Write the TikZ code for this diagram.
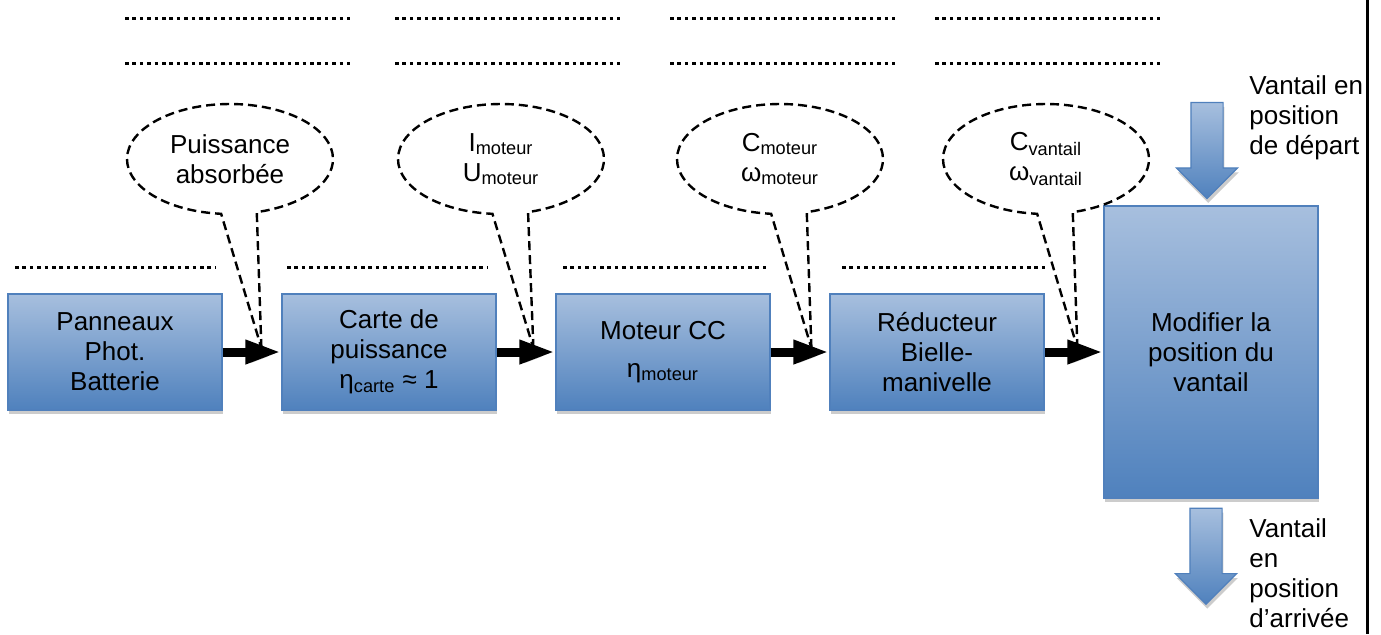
\documentclass[tikz,border=0pt]{standalone}
\usepackage{fontspec}
\setmainfont{Liberation Sans}
\usetikzlibrary{positioning,arrows.meta,shapes.callouts,shapes.arrows,shadows}
\definecolor{blocktop}{RGB}{167,191,222}
\definecolor{blockbottom}{RGB}{79,129,189}
\definecolor{blockline}{RGB}{80,128,188}
\def\blocksep{29.4pt}

\begin{document}
\begin{tikzpicture}[x=0.5pt,y=-0.5pt,node distance=\blocksep,font=\fontsize{13}{15}\selectfont]
		\tikzstyle{block}=[rectangle,draw=blockline,line width=0.6pt,top color=blocktop,bottom color=blockbottom,
			minimum width=107pt,minimum height=58pt,inner sep=0pt,align=center,
			drop shadow={shadow xshift=0.6pt,shadow yshift=-2.2pt,fill=black!20,opacity=1}]
		\tikzstyle{move}=[single arrow,shape border rotate=270,draw=blockline,line width=0.6pt,
			top color=blocktop,bottom color=blockbottom,minimum width=30pt,minimum height=48pt,
			single arrow head extend=7.25pt,inner sep=7.75pt,
			drop shadow={shadow xshift=0.6pt,shadow yshift=-2.2pt,fill=black!20,opacity=1}]
		\tikzstyle{flow}=[line width=4.5pt,-{Triangle[length=18pt,width=11pt]},
			preaction={draw=black!20,transform canvas={xshift=0.6pt,yshift=-2.2pt}}]
		\tikzstyle{bubble}=[ellipse callout,draw,line width=1.2pt,dash pattern=on 4.5pt off 2.5pt,
			minimum width=103pt,minimum height=55pt,callout pointer arc=20,inner sep=0pt,align=center]
		\tikzstyle{blank}=[line width=1.5pt,dash pattern=on 1.8pt off 1.9pt]
		\tikzstyle{note}=[anchor=north west,align=left,inner sep=0pt]
		
		\useasboundingbox (0,0) rectangle (1381,634);
		
		% Draw the blank answer lines
		\foreach \x in {125,395,670,935}{
			\draw[blank] (\x,18) -- ++(225,0);
			\draw[blank] (\x,63) -- ++(225,0);
		}
		\foreach \x/\len in {15/200,287/201,563/204,842/203}
		\draw[blank] (\x,267) -- ++(\len,0);
		
		% Draw the chain blocks
		\node[block] (B-1) at (115,352) {Panneaux\\Phot.\\Batterie};
		\node[block, right=of B-1] (B-2) {Carte de\\puissance\\η\textsubscript{carte} ≈ 1};
		\node[block, right=of B-2] (B-3) {Moteur CC\\[4pt]η\textsubscript{moteur}};
		\node[block, right=of B-3] (B-4) {Réducteur\\Bielle-\\manivelle};
		\node[block, right=of B-4, minimum height=146pt] (B-5) {Modifier la\\position du\\vantail};
		
		% Draw the callouts pointing at the power flow
		\node[bubble, callout absolute pointer={([xshift=-10pt,yshift=2pt]B-2.west)}] (C-1) at (230,159) {Puissance\\absorbée};
		\node[bubble, callout absolute pointer={([xshift=-11pt,yshift=2pt]B-3.west)}] (C-2) at (501,159) {I\textsubscript{moteur}\\U\textsubscript{moteur}};
		\node[bubble, callout absolute pointer={([xshift=-9pt,yshift=2pt]B-4.west)}] (C-3) at (780,159) {C\textsubscript{moteur}\\ω\textsubscript{moteur}};
		\node[bubble, callout absolute pointer={([xshift=-13pt,yshift=2pt]B-5.west)}] (C-4) at (1046,159) {C\textsubscript{vantail}\\ω\textsubscript{vantail}};
		
		% Connect every block with the next one
		\foreach \source/\dest in {1/2,2/3,3/4,4/5}
		\draw[flow] (B-\source.east) -- (B-\dest.west);
		
		% Draw the input and output of the last block
		\node[move, above=3pt of B-5, xshift=-2pt] (enter) {};
		\node[move, below=4.5pt of B-5, xshift=-2.5pt] (leave) {};
		\node[note] (enter text) at (1249,75) {Vantail en\\position\\de départ};
		\node[note] (leave text) at (1249,518) {Vantail\\en\\position\\d’arrivée};
		
		% Frame edge
		\draw[line width=1.5pt] (1367,0) -- (1367,634);
	\end{tikzpicture}
\end{document}
